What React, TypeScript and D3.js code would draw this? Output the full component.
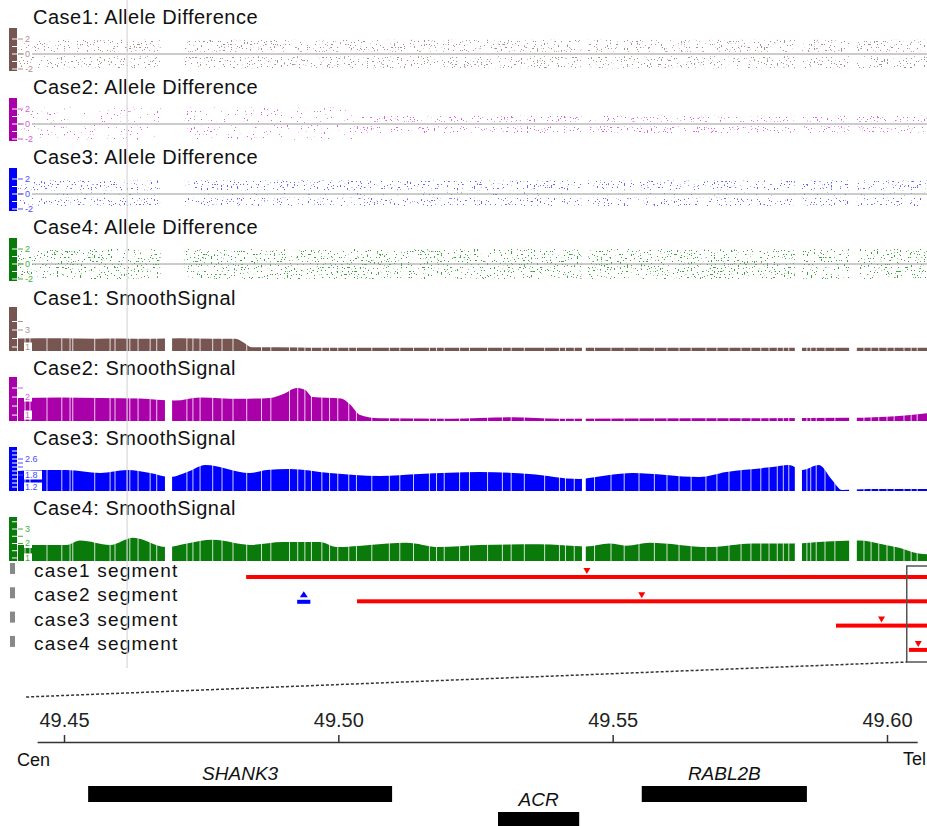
import React, { useEffect, useRef } from 'react';
import * as d3 from 'd3';

const WIDTH = 927;
const HEIGHT = 826;
const FONT = '"Liberation Sans", Arial, sans-serif';

// genomic window (Mb)
const DATA_START = 49.4416;
const DATA_END = 49.6073;
const AXIS_START = 49.4451;
const AXIS_END = 49.6055;
const AXIS_TICKS = [49.45, 49.5, 49.55, 49.6];
const CURSOR_MB = 49.4615;
const ZOOM_BOX = [49.6036, 49.6200];
const ZOOM_LINE_START = 49.4431;

const ALLELE_TITLES = ['Case1: Allele Difference', 'Case2: Allele Difference', 'Case3: Allele Difference', 'Case4: Allele Difference'];
const SIGNAL_TITLES = ['Case1: SmoothSignal', 'Case2: SmoothSignal', 'Case3: SmoothSignal', 'Case4: SmoothSignal'];
const CASE_COLORS = ['#775550', '#aa00aa', '#0000ff', '#0a7a0a'];
const DOT_COLORS = ['#a88e8a', '#d466d4', '#6464ff', '#3f9f3f'];
const LABEL_COLORS = ['#b0908b', '#d060d0', '#4a4aff', '#40b040'];

// places with no probes
const ALLELE_GAPS = [[49.4676, 49.4720], [49.5443, 49.5455], [49.5832, 49.5845], [49.5931, 49.5945]];
const SIGNAL_GAPS = [[49.4684, 49.4697], [49.5444, 49.5451], [49.5832, 49.5845], [49.5931, 49.5945]];
// narrow gaps between probes (white slits in the smoothed signal)
const PROBE_GAPS = [
  49.4429, 49.4438, 49.4469, 49.4496, 49.4511, 49.4516, 49.4556, 49.4584, 49.4593, 49.4620,
  49.4635, 49.4657, 49.4669, 49.4724, 49.4735, 49.4748, 49.4771, 49.4788, 49.4808, 49.4833,
  49.4860, 49.4877, 49.4911, 49.4926, 49.4939, 49.4951, 49.4970, 49.4984, 49.4999, 49.5019,
  49.5033, 49.5061, 49.5093, 49.5112, 49.5137, 49.5166, 49.5179, 49.5193, 49.5221, 49.5239,
  49.5272, 49.5299, 49.5315, 49.5339, 49.5376, 49.5403, 49.5414, 49.5430, 49.5467, 49.5497,
  49.5521, 49.5548, 49.5576, 49.5599, 49.5621, 49.5643, 49.5670, 49.5690, 49.5712, 49.5734,
  49.5752, 49.5770, 49.5785, 49.5800, 49.5811, 49.5821, 49.5854, 49.5861, 49.5871, 49.5887,
  49.5905, 49.5958, 49.5971, 49.5985, 49.6000, 49.6013, 49.6031, 49.6044, 49.6055,
];

// allele difference point clouds: [start, end, low, high, dense]
const ALLELE_CASE1 = [[49.4416, 49.6073, 0.3, 1.9, 1], [49.4416, 49.6073, -1.9, -0.3, 1]];
const ALLELE_CASE2 = [
  [49.4416, 49.5034, 0.1, 2.2, 0], [49.4416, 49.5034, -2.1, -0.1, 0],
  [49.5034, 49.6073, 0.3, 1.1, 1], [49.5034, 49.6073, -1.2, -0.3, 1],
];
const ALLELE_CASE3 = [[49.4416, 49.6073, 0.5, 1.8, 1], [49.4416, 49.6073, -0.2, 0.2, 0], [49.4416, 49.6073, -1.6, -0.5, 1]];
const ALLELE_CASE4 = [[49.4416, 49.6073, -2.0, 2.0, 1]];
const ALLELE_DOMAIN = [-2.27, 3.47];

// smoothed signal: [Mb, value]
const SIGNAL_CASE1 = [
  [49.4416, 2.0], [49.4493, 2.03], [49.4560, 1.98], [49.4602, 2.0], [49.4660, 1.97], [49.4711, 2.02],
  [49.4770, 1.98], [49.4813, 1.97], [49.4828, 1.5], [49.4842, 0.97], [49.4930, 0.95], [49.4966, 0.9],
  [49.5203, 0.9], [49.5476, 0.92], [49.5749, 0.9], [49.6073, 0.92],
];
const SIGNAL_CASE2 = [
  [49.4416, 1.94], [49.4493, 1.98], [49.4566, 1.95], [49.4638, 1.92], [49.4702, 1.8], [49.4748, 1.98],
  [49.4820, 1.9], [49.4875, 1.95], [49.4902, 2.2], [49.4924, 2.5], [49.4939, 2.4], [49.4953, 2.0],
  [49.5005, 1.92], [49.5021, 1.6], [49.5040, 1.0], [49.5075, 0.82], [49.5203, 0.8], [49.5317, 0.88],
  [49.5403, 0.8], [49.5658, 0.82], [49.5931, 0.85], [49.6022, 0.95], [49.6073, 1.1],
];
const SIGNAL_CASE3 = [
  [49.4416, 2.0], [49.4456, 2.05], [49.4505, 2.05], [49.4566, 1.9], [49.4615, 2.05], [49.4657, 1.9],
  [49.4693, 1.7], [49.4729, 2.0], [49.4757, 2.3], [49.4839, 1.9], [49.4869, 2.05], [49.4911, 2.1],
  [49.4984, 1.9], [49.5075, 1.75], [49.5148, 1.85], [49.5257, 1.95], [49.5348, 1.85], [49.5439, 1.6],
  [49.5457, 1.65], [49.5494, 1.8], [49.5536, 1.9], [49.5658, 1.7], [49.5707, 1.95], [49.5791, 2.2],
  [49.5821, 2.3], [49.5845, 2.05], [49.5876, 2.3], [49.5900, 1.55], [49.5918, 1.05], [49.5967, 1.1],
  [49.6073, 1.1],
];
const SIGNAL_CASE4 = [
  [49.4416, 1.9], [49.4505, 1.9], [49.4529, 2.2], [49.4584, 1.9], [49.4626, 2.4], [49.4687, 1.75],
  [49.4724, 2.0], [49.4771, 2.25], [49.4839, 1.9], [49.4899, 2.1], [49.4966, 2.1], [49.4997, 1.75],
  [49.5057, 1.9], [49.5124, 2.05], [49.5184, 1.75], [49.5257, 1.9], [49.5366, 1.95], [49.5452, 1.8],
  [49.5494, 2.0], [49.5525, 1.85], [49.5567, 2.05], [49.5676, 1.75], [49.5754, 2.0], [49.5827, 2.0],
  [49.5900, 2.15], [49.5949, 2.2], [49.5991, 1.95], [49.6022, 1.7], [49.6058, 1.3], [49.6073, 1.25],
];
const SIGNAL_DOMAINS = [[0.53, 5.71], [0.67, 3.11], [1.0, 3.2], [0.79, 3.83]];
// left scale: grid values and [value, label, dash]
const SIGNAL_GRID = [
  [1, 2, 3, 4],
  [1, 1.5, 2, 2.5],
  [1.2, 1.4, 1.6, 1.8, 2.0, 2.2, 2.4, 2.6, 2.8, 3.0],
  [1, 1.5, 2, 2.5, 3, 3.5],
];
const SIGNAL_TICKS = [
  [[4, '', true], [3, '3', true], [1, '1', false]],
  [[2.5, '', true], [2, '2', false], [1, '1', false]],
  [[2.6, '2.6', true], [2.4, '', true], [2.2, '', true], [1.8, '1.8', true], [1.2, '1.2', false]],
  [[3, '3', true], [2.5, '', true], [2, '2', true], [1, '1', false]],
];
const ALLELE_GRID = [-2, -1, 0, 1, 2];
const ALLELE_TICKS = [[2, '2', true], [0, '0', true], [-2, '-2', true]];

// segments: [row, start, end, marker]
const SEGMENT_LABELS = ['case1 segment', 'case2 segment', 'case3 segment', 'case4 segment'];
const LOSS_SEGMENTS = [[0, 49.4832, 49.62, 49.5453], [1, 49.5034, 49.62, 49.5553], [2, 49.5907, 49.62, 49.5990], [3, 49.6040, 49.62, 49.6057]];
const GAIN_SEGMENTS = [[1, 49.4925, 49.4949, 49.4937]];

// genes: [name, start, end, row]
const GENES = [['SHANK3', 49.4544, 49.5098, 0], ['RABL2B', 49.5553, 49.5854, 0], ['ACR', 49.5291, 49.5439, 1]];

const x = d3.scaleLinear().domain([49.45, 49.6]).range([64, 887]);

function SpeckleFilter({ id, color, seed, thr }) {
  const c = d3.rgb(color);
  const k = 30;
  const values = `0 0 0 0 ${c.r / 255} 0 0 0 0 ${c.g / 255} 0 0 0 0 ${c.b / 255} ${k} 0 0 0 ${-k * thr}`;
  return (
    <filter id={id} x="0" y="0" width="1" height="1" colorInterpolationFilters="sRGB">
      <feTurbulence type="fractalNoise" baseFrequency="0.7" numOctaves="1" seed={seed} result="n" />
      <feColorMatrix in="n" type="matrix" values={values} result="dots" />
      <feComposite in="dots" in2="SourceAlpha" operator="in" />
    </filter>
  );
}

function LeftScale({ y, top, bottom, color, labelColor, grid, ticks }) {
  return (
    <g>
      <rect x={9} y={top} width={8} height={bottom - top} fill={color} />
      {grid.map((v) => (
        <line key={v} x1={12} x2={17} y1={y(v)} y2={y(v)} stroke="#fff" strokeWidth={1} />
      ))}
      {ticks.map(([v, label, dash]) => (
        <g key={v}>
          {label && <rect x={24} y={y(v) - 4.5} width={label.length * 5 + 3} height={9} fill="#fff" />}
          {dash && <line x1={18} x2={23} y1={y(v)} y2={y(v)} stroke={labelColor} strokeWidth={1} />}
          {label && (
            <text x={25} y={y(v) + 3} fontSize={9} fontFamily={FONT} fill={labelColor}>{label}</text>
          )}
        </g>
      ))}
    </g>
  );
}

function AlleleTrack({ i, bands }) {
  const top = 28 + 70 * i;
  const bottom = 71 + 70 * i;
  const y = d3.scaleLinear().domain(ALLELE_DOMAIN).range([bottom, top]);
  return (
    <g>
      <text x={33} y={24 + 70 * i} fontSize={20} letterSpacing={0.5} fontFamily={FONT} fill="#111">{ALLELE_TITLES[i]}</text>
      {bands.map(([s, e, lo, hi, dense], j) => (
        <rect key={j} x={x(s)} width={x(e) - x(s)} y={y(hi)} height={y(lo) - y(hi)} fill="#000"
          filter={`url(#speckle-${i}-${dense})`} />
      ))}
      {ALLELE_GAPS.map(([s, e], j) => (
        <rect key={j} x={x(s)} width={x(e) - x(s)} y={top} height={bottom - top} fill="#fff" />
      ))}
      <line x1={x(DATA_START)} x2={x(DATA_END)} y1={y(0)} y2={y(0)} stroke="#999" strokeWidth={1.2} />
      <LeftScale y={y} top={top} bottom={bottom} color={CASE_COLORS[i]} labelColor={LABEL_COLORS[i]}
        grid={ALLELE_GRID} ticks={ALLELE_TICKS} />
    </g>
  );
}

function SignalTrack({ i, knots }) {
  const top = 307 + 70 * i;
  const bottom = 351 + 70 * i;
  const y = d3.scaleLinear().domain(SIGNAL_DOMAINS[i]).range([bottom, top]);
  const area = d3.area()
    .x((d) => x(d[0]))
    .y0(bottom)
    .y1((d) => y(d[1]))
    .curve(d3.curveMonotoneX);
  return (
    <g>
      <text x={33} y={305 + 70 * i} fontSize={20} letterSpacing={0.5} fontFamily={FONT} fill="#111">{SIGNAL_TITLES[i]}</text>
      <path d={area(knots)} fill={CASE_COLORS[i]} />
      {PROBE_GAPS.map((p) => (
        <line key={p} x1={x(p)} x2={x(p)} y1={top} y2={bottom} stroke="#fff" strokeWidth={1} strokeOpacity={0.8} />
      ))}
      {SIGNAL_GAPS.map(([s, e], j) => (
        <rect key={j} x={x(s)} width={x(e) - x(s)} y={top} height={bottom - top + 1} fill="#fff" />
      ))}
      <LeftScale y={y} top={top} bottom={bottom} color={CASE_COLORS[i]} labelColor={LABEL_COLORS[i]}
        grid={SIGNAL_GRID[i]} ticks={SIGNAL_TICKS[i]} />
    </g>
  );
}

function Segments() {
  const rowY = (r) => 577 + 24.3 * r;
  const tri = (cx, cy, down) => down
    ? `M${cx - 3.5},${cy - 6}L${cx + 3.5},${cy - 6}L${cx},${cy}Z`
    : `M${cx - 4},${cy}L${cx + 4},${cy}L${cx},${cy - 6}Z`;
  return (
    <g>
      {SEGMENT_LABELS.map((label, r) => (
        <g key={label}>
          <rect x={10} y={rowY(r) - 14} width={5} height={11} fill="#888" />
          <text x={34} y={rowY(r)} fontSize={19} letterSpacing={1.2} fontFamily={FONT} fill="#111">{label}</text>
        </g>
      ))}
      {LOSS_SEGMENTS.map(([r, s, e, m]) => (
        <g key={r}>
          <rect x={x(s)} width={x(e) - x(s)} y={rowY(r) - 2} height={4} fill="#ff0000" />
          <path d={tri(x(m), rowY(r) - 3, true)} fill="#ff0000" />
        </g>
      ))}
      {GAIN_SEGMENTS.map(([r, s, e, m]) => (
        <g key={r}>
          <rect x={x(s)} width={x(e) - x(s)} y={rowY(r) - 1.5} height={4} fill="#0000ff" />
          <path d={tri(x(m), rowY(r) - 4, false)} fill="#0000ff" />
        </g>
      ))}
      <rect x={x(ZOOM_BOX[0])} y={566} width={x(ZOOM_BOX[1]) - x(ZOOM_BOX[0])} height={96}
        fill="none" stroke="#555" strokeWidth={1.5} />
      <line x1={x(ZOOM_LINE_START)} y1={697} x2={x(ZOOM_BOX[0])} y2={662}
        stroke="#333" strokeWidth={1.5} strokeDasharray="3,2" />
    </g>
  );
}

export default function App() {
  const axisRef = useRef(null);

  useEffect(() => {
    const g = d3.select(axisRef.current);
    g.selectAll('*').remove();
    const axisScale = d3.scaleLinear().domain([AXIS_START, AXIS_END]).range([x(AXIS_START), x(AXIS_END)]);
    g.call(d3.axisTop(axisScale)
      .tickValues(AXIS_TICKS)
      .tickFormat(d3.format('.2f'))
      .tickSize(7)
      .tickSizeOuter(0)
      .tickPadding(8));
    g.select('.domain').attr('stroke', '#333').attr('stroke-width', 1.5);
    g.selectAll('.tick line').attr('stroke', '#333').attr('stroke-width', 1.5);
    g.selectAll('.tick text').attr('font-size', 20).attr('font-family', FONT).attr('fill', '#222');
  }, []);

  const alleles = [ALLELE_CASE1, ALLELE_CASE2, ALLELE_CASE3, ALLELE_CASE4];
  const signals = [SIGNAL_CASE1, SIGNAL_CASE2, SIGNAL_CASE3, SIGNAL_CASE4];

  return (
    <svg width={WIDTH} height={HEIGHT} style={{ position: 'absolute', left: 0, top: 0, background: '#fff' }}>
      <defs>
        {DOT_COLORS.map((c, i) => (
          <React.Fragment key={c}>
            <SpeckleFilter id={`speckle-${i}-1`} color={c} seed={i * 7 + 3} thr={0.65} />
            <SpeckleFilter id={`speckle-${i}-0`} color={c} seed={i * 7 + 5} thr={0.69} />
          </React.Fragment>
        ))}
      </defs>
      {alleles.map((b, i) => <AlleleTrack key={i} i={i} bands={b} />)}
      {signals.map((k, i) => <SignalTrack key={i} i={i} knots={k} />)}
      <Segments />
      <line x1={x(CURSOR_MB)} x2={x(CURSOR_MB)} y1={0} y2={668} stroke="#d8d8d8" strokeOpacity={0.8} strokeWidth={1.5} />

      <g ref={axisRef} transform="translate(0,742)" />
      <text x={17} y={766} fontSize={18} fontFamily={FONT} fill="#111">Cen</text>
      <text x={903} y={765} fontSize={18} fontFamily={FONT} fill="#111">Tel</text>

      {GENES.map(([name, s, e, row]) => {
        const top = 786 + 26 * row;
        return (
          <g key={name}>
            <rect x={x(s)} width={x(e) - x(s)} y={top} height={16} fill="#000" />
            <text x={(x(s) + x(e)) / 2} y={top - 6} textAnchor="middle" fontSize={19} fontStyle="italic"
              fontFamily={FONT} fill="#111">{name}</text>
          </g>
        );
      })}
    </svg>
  );
}
